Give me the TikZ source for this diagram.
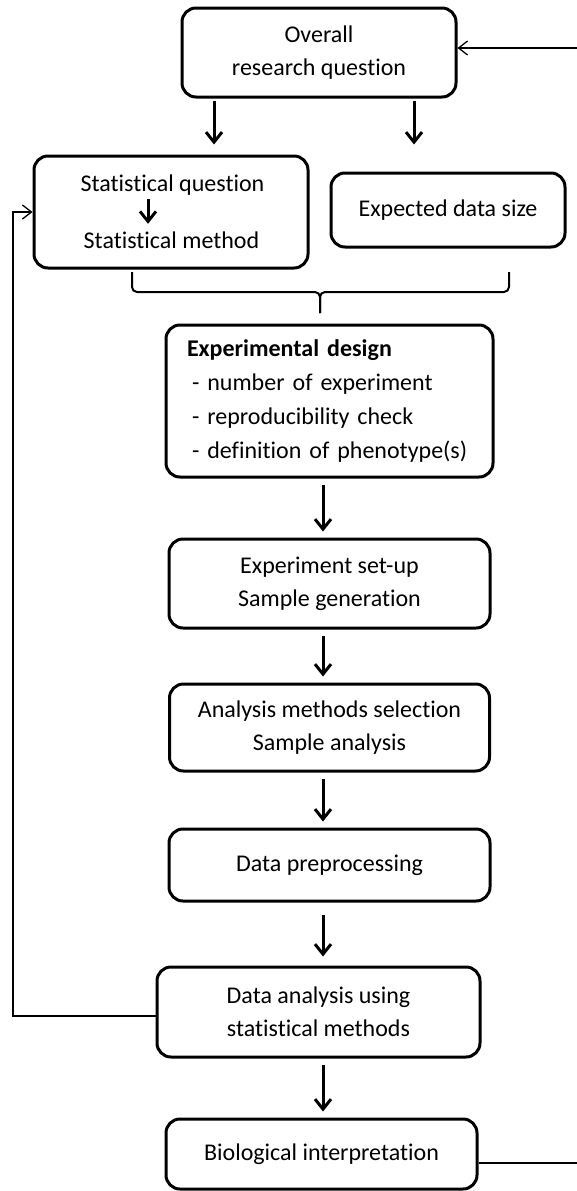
\documentclass[tikz,border=0pt]{standalone}
\usepackage{fontspec}
\setmainfont{Carlito}[Ligatures=NoCommon]
\usetikzlibrary{positioning, arrows.meta}

\begin{document}
\begin{tikzpicture}
[x=1pt, y=-1pt,
 box/.style={draw, line width=3pt, rounded corners=14pt, inner sep=0pt},
 ->/.style={line width=3pt, arrows={-Straight Barb[length=10pt, width=16pt]}, shorten <=6pt, shorten >=6pt},
 back/.style={line width=1.3pt, arrows={-Straight Barb[length=9pt, width=14pt]}},
 brace/.style={line width=2pt, rounded corners=5pt},
 every node/.style={font=\fontsize{24}{33}\selectfont},
 every text node part/.style={align=center}]

\useasboundingbox (0,0) rectangle (576,1191);

% question and the two things it leads to
\node[box, minimum width=274pt, minimum height=89pt] (overall) at (319,52.5) {Overall\\research question};
\node[box, minimum width=274pt, minimum height=112pt] (stat) at (171,212) {};
\node[anchor=base] (sq) at (172.5,191) {Statistical question};
\node[anchor=base] (sm) at (171.5,248) {Statistical method};
\node[box, minimum width=234pt, minimum height=74pt] (expected) at (448,210) {Expected data size};

% the main column
\node[box, minimum width=327pt, minimum height=152pt, inner xsep=21pt, text width=285pt,
  font=\fontsize{24}{34}\selectfont, every text node part/.style={align=left}] (design) at (329.5,401)
  {\textbf{Experimental design}\\\hspace*{5pt}- number of experiment\\\hspace*{5pt}- reproducibility check\\\hspace*{5pt}- definition of phenotype(s)};
\node[box, minimum width=321pt, minimum height=89pt] (setup) [below = 59pt of design] {Experiment set-up\\Sample generation};
\node[box, minimum width=320pt, minimum height=87pt] (analysis) [below = 53pt of setup] {Analysis methods selection\\Sample analysis};
\node[box, minimum width=321pt, minimum height=72pt] (preproc) [below = 55pt of analysis] {Data preprocessing};
\node[box, minimum width=323pt, minimum height=90pt] (dataan) at (318.5,1012) {Data analysis using\\statistical methods};
\node[box, minimum width=311pt, minimum height=70pt] (bio) at (321.5,1154) {Biological interpretation};

\coordinate (qa) at (214,0);
\coordinate (qb) at (414,0);
\coordinate (sx) at (148,0);
\coordinate (ax) at (323,0);
\coordinate (lb) at (13,1016);
\coordinate (rb) at (600,1163);
\coordinate (bl) at (132,272);
\coordinate (br) at (509,272);
\coordinate (bm) at (320,292);
\coordinate (bt) at (320,313);

  \draw [->, shorten <=2pt, shorten >=10pt] (overall.south -| qa) -- (stat.north -| qa);
  \draw [->, shorten <=2pt, shorten >=10pt] (overall.south -| qb) -- (stat.north -| qb);
  \draw [->, shorten <=1pt, shorten >=4pt] (sq.south -| sx) -- (sm.north -| sx);

  \draw [brace] (bl) |- (bm) -- (bt);
  \draw [brace] (br) |- (bm) -- (bt);

  \draw [->] (design.south -| ax) -- (setup.north -| ax);
  \draw [->] (setup.south -| ax) -- (analysis.north -| ax);
  \draw [->] (analysis.south -| ax) -- (preproc.north -| ax);
  \draw [->, shorten <=12pt, shorten >=9pt] (preproc.south -| ax) -- (dataan.north -| ax);
  \draw [->] (dataan.south -| ax) -- (bio.north -| ax);

  \draw [back] (dataan.west |- lb) -- (lb) |- (stat.west);
  \draw [back] (bio.east |- rb) -- (rb) |- ([yshift=4.5pt]overall.east);

\end{tikzpicture}
\end{document}
